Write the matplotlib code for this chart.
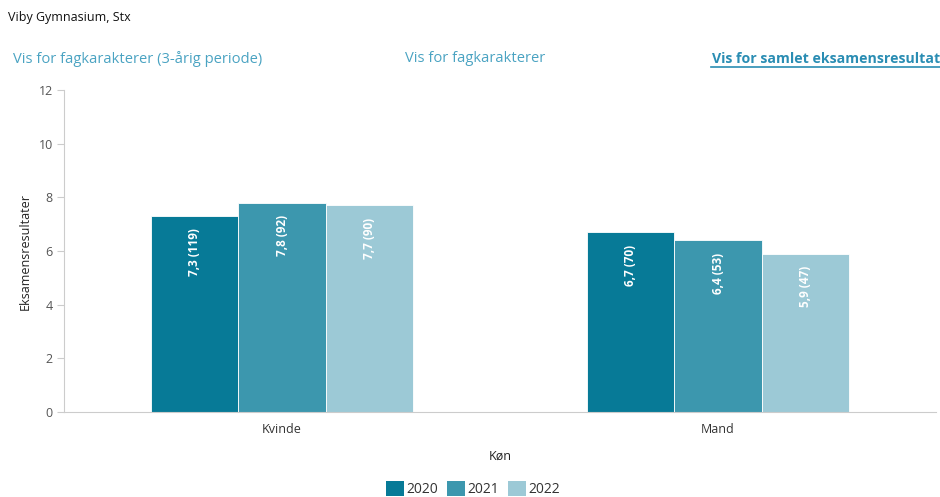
import matplotlib
matplotlib.use("Agg")
import matplotlib.pyplot as plt
import numpy as np
from matplotlib.patches import Patch

plt.rcParams['font.family'] = ['Open Sans', 'DejaVu Sans']

categories = ["Kvinde", "Mand"]
years = ["2020", "2021", "2022"]
values = {
    "2020": [7.3, 6.7],
    "2021": [7.8, 6.4],
    "2022": [7.7, 5.9],
}
counts = {
    "2020": [119, 70],
    "2021": [92, 53],
    "2022": [90, 47],
}
colors = {"2020": "#077a97", "2021": "#3c97ae", "2022": "#9cc9d6"}
yticks = [0, 2, 4, 6, 8, 10, 12]

fig = plt.figure(figsize=(9.4, 4.97), dpi=100)
ax = fig.add_axes([64/940, 1-412/497, 872/940, (412-90)/497])

x = np.arange(len(categories))
bw = 0.2
for i, yr in enumerate(years):
    pos = x + (i - 1) * bw
    bars = ax.bar(pos, values[yr], width=bw, color=colors[yr], edgecolor="white", linewidth=0.6, zorder=2)
    for p, v, c in zip(pos, values[yr], counts[yr]):
        lab = f"{v:.1f}".replace(".", ",") + f" ({c})"
        ax.annotate(lab, (p, v), xytext=(0, -9), textcoords="offset points",
                    rotation=90, ha="center", va="top", color="white",
                    fontsize=8.5, fontweight="bold")

ax.set_xlim(-0.5, 1.5)
ax.set_ylim(0, 12)
ax.set_yticks(yticks)
ax.set_xticks(x)
ax.set_xticklabels(categories)
ax.tick_params(axis="x", length=0, labelsize=9, colors="#333333", pad=8)
ax.tick_params(axis="y", length=5, width=0.8, color="#cccccc", labelsize=9, labelcolor="#555555", pad=3)
for s in ["top", "right"]:
    ax.spines[s].set_visible(False)
ax.spines["left"].set_color("#cccccc")
ax.spines["bottom"].set_color("#cccccc")
ax.set_ylabel("Eksamensresultater", fontsize=9, color="#222222", labelpad=5)
ax.set_xlabel("Køn", fontsize=9, color="#222222", labelpad=10)

fig.text(8/940, 1-18/497, "Viby Gymnasium, Stx", fontsize=9, color="#111111", va="center")
fig.text(13/940, 1-59/497, "Vis for fagkarakterer (3-årig periode)", fontsize=10.6, color="#4aa3c2", va="center")
fig.text(405/940, 1-59/497, "Vis for fagkarakterer", fontsize=10.6, color="#4aa3c2", va="center")
t = fig.text(940/940, 1-59/497, "Vis for samlet eksamensresultat", fontsize=10.2, color="#2a8db3",
             va="center", ha="right", fontweight="bold")
fig.lines.append(plt.Line2D([711/940, 940/940], [1-67/497, 1-67/497], transform=fig.transFigure,
                            color="#2a8db3", linewidth=1.2))

handles = [Patch(facecolor=colors[y], edgecolor="none", label=y) for y in years]
fig.legend(handles=handles, loc="center", bbox_to_anchor=(473/940, 1-489/497), ncol=3,
           frameon=False, fontsize=10, handlelength=1.3, handleheight=1.3,
           handletextpad=0.2, columnspacing=0.6, labelcolor="#333333")

fig.savefig("out.png", dpi=100)
